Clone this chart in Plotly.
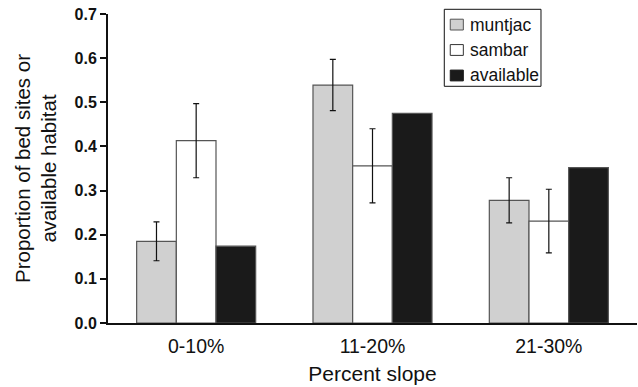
import plotly.graph_objects as go

categories = ["0-10%", "11-20%", "21-30%"]
muntjac = [0.185, 0.539, 0.278]
muntjac_err = [0.044, 0.058, 0.051]
sambar = [0.413, 0.356, 0.231]
sambar_err = [0.084, 0.084, 0.072]
available = [0.174, 0.475, 0.352]
y_title = "Proportion of bed sites or<br>available habitat"
x_title = "Percent slope"

series = [
    ("muntjac", muntjac, muntjac_err, "#d0d0d0", "#555555"),
    ("sambar", sambar, sambar_err, "#ffffff", "#333333"),
    ("available", available, None, "#1a1a1a", "#1a1a1a"),
]

fig = go.Figure()
for name, vals, err, color, edge in series:
    kw = {}
    if err is not None:
        kw["error_y"] = dict(type="data", array=err, visible=True,
                             color="#111111", thickness=1.2, width=3)
    fig.add_trace(go.Bar(
        x=categories, y=vals, name=name, showlegend=False,
        marker=dict(color=color, line=dict(color="#555555", width=1.2)),
        **kw))

# custom legend box (paper coordinates)
fig.add_shape(type="rect", xref="paper", yref="paper",
              x0=0.6357, x1=0.8185, y0=0.766, y1=1.0152,
              line=dict(color="#111111", width=1), fillcolor="white",
              layer="above")
row_y = [0.9657, 0.8835, 0.801]
for i, (name, vals, err, color, edge) in enumerate(series):
    yc = row_y[i]
    fig.add_shape(type="rect", xref="paper", yref="paper",
                  x0=0.647, x1=0.6717, y0=yc - 0.0175, y1=yc + 0.0175,
                  line=dict(color=edge, width=1), fillcolor=color,
                  layer="above")
    fig.add_annotation(xref="paper", yref="paper", x=0.680, y=yc,
                       xanchor="left", yanchor="middle", showarrow=False,
                       text=name, font=dict(size=17.5, color="#111111"))

fig.update_layout(
    width=638, height=387,
    margin=dict(l=108, r=1, t=14, b=64, autoexpand=False),
    paper_bgcolor="white", plot_bgcolor="white",
    barmode="group", bargap=0.325, bargroupgap=0,
    font=dict(family="Arial, Liberation Sans, sans-serif", color="#111111"),
    showlegend=False,
)
fig.update_xaxes(
    range=[-0.5, 2.5], showline=True, linecolor="#111111", linewidth=2,
    ticks="", tickfont=dict(size=19.5), showgrid=False, automargin=False,
    ticklabelstandoff=5,
    title=dict(text=x_title, font=dict(size=21), standoff=10),
)
fig.update_yaxes(
    range=[0, 0.7], dtick=0.1, tickformat=".1f", showline=True,
    linecolor="#111111", linewidth=2, ticks="outside", ticklen=6,
    tickwidth=2, tickcolor="#111111", showgrid=False, zeroline=False,
    tickfont=dict(size=16, weight="bold"), automargin=False,
    ticklabeloverflow="allow",
    title=dict(text=y_title, font=dict(size=20.5), standoff=12),
)
fig.write_html("out.html",
               config={"displayModeBar": False},
               post_script="document.body.style.margin='0';"
                           "document.body.style.overflow='hidden';")
